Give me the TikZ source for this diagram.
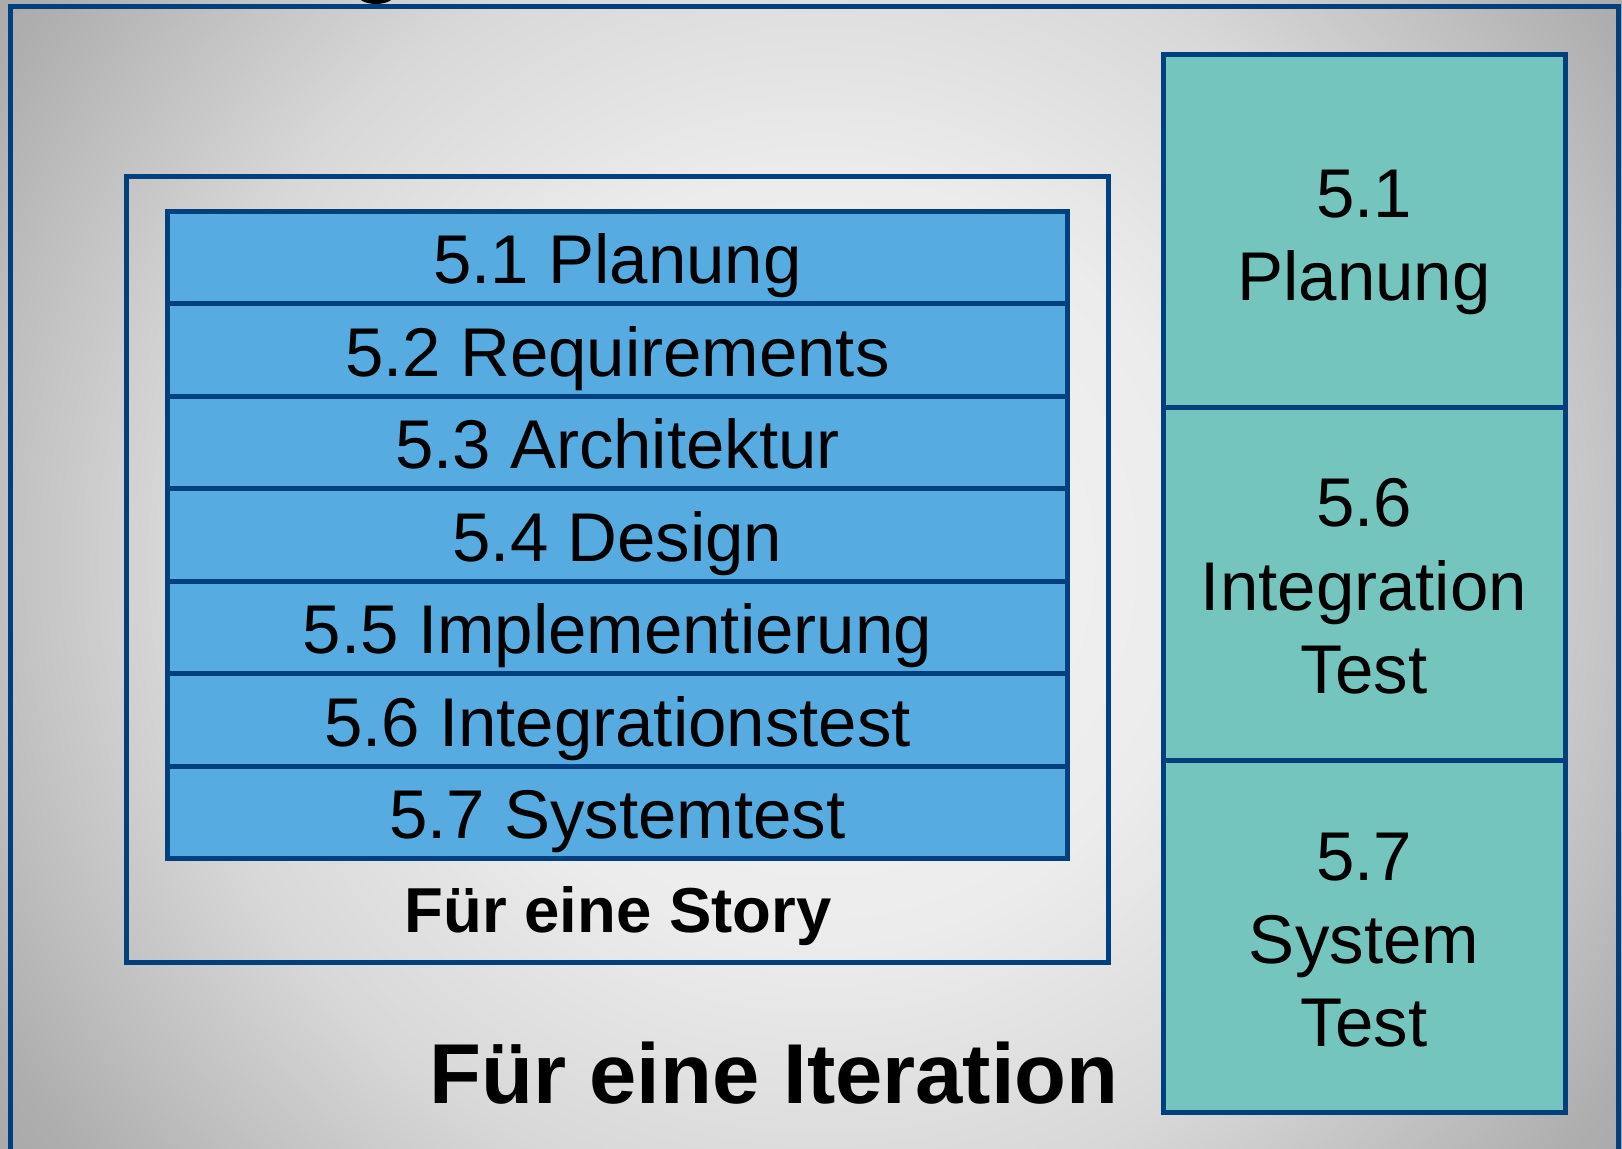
\documentclass[tikz,border=0pt]{standalone}
\usepackage{fontspec}
\setmainfont{Liberation Sans}
\definecolor{frameblue}{HTML}{00407F}
\definecolor{rowblue}{HTML}{56ACE0}
\definecolor{tealbox}{HTML}{74C5BE}
\definecolor{bgA}{HTML}{F5F5F5}
\definecolor{bgB}{HTML}{ECECEC}
\definecolor{bgC}{HTML}{D8D8D8}
\definecolor{bgD}{HTML}{BEBEBE}
\definecolor{bgE}{HTML}{AEAEAE}
\definecolor{bgF}{HTML}{A0A0A0}
\pgfdeclareradialshading{bgglow}{\pgfpoint{0bp}{0bp}}{color(0bp)=(bgA); color(10bp)=(bgB); color(17bp)=(bgC); color(22bp)=(bgD); color(25bp)=(bgE); color(30bp)=(bgF); color(50bp)=(bgF)}
\begin{document}
\begin{tikzpicture}[x=0.5pt,y=-0.5pt,
  bline/.style={draw=frameblue,line width=2.5pt},
  rowbox/.style={bline, fill=rowblue, rectangle, inner sep=0pt, minimum width=450pt, minimum height=46.25pt, font=\fontsize{34.5pt}{41.5pt}\selectfont, text height=26.5pt, text depth=0pt},
  tealcell/.style={bline, fill=tealbox, rectangle, inner sep=0pt, minimum width=201pt, minimum height=176.4pt},
  celltext/.style={anchor=base, inner sep=0pt, font=\fontsize{34.5pt}{41.5pt}\selectfont},
  boldlabel/.style={anchor=base, inner sep=0pt, font=\bfseries}
]
\useasboundingbox (0,0) rectangle (1622,1148);
\begin{scope}
  \clip (0,0) rectangle (1622,1148);
  \shade[shading=bgglow] (-130,-390) rectangle (1770,1510);
  \fill[black] (376,-6) ellipse [x radius=9.5pt, y radius=5pt];
\end{scope}
% outer iteration frame
\draw[bline] (10,1160) -- (10,6.5) -- (1618,6.5) -- (1618,1160);
% story frame
\node[bline, rectangle, inner sep=0pt, minimum width=491.25pt, minimum height=393pt] (story) at (617.25,569.5) {};
% rows
\node[rowbox] (r1) at (617.5,257.25) {5.1 Planung};
\node[rowbox] (r2) at (617.5,349.75) {5.2 Requirements};
\node[rowbox] (r3) at (617.5,442.25) {5.3 Architektur};
\node[rowbox] (r4) at (617.5,534.75) {5.4 Design};
\node[rowbox] (r5) at (617.5,627.25) {5.5 Implementierung};
\node[rowbox] (r6) at (617.5,719.75) {5.6 Integrationstest};
\node[rowbox] (r7) at (617.5,812.25) {5.7 Systemtest};
\node[boldlabel, font=\fontsize{31.75pt}{38pt}\selectfont\bfseries] (storylbl) at (618,932) {Für eine Story};
% right column
\node[tealcell] (c1) at (1364,230.9) {};
\node[tealcell] (c2) at (1364,583.7) {};
\node[tealcell] (c3) at (1364,936.5) {};
\node[celltext] (c1a) at (1364,217) {5.1};
\node[celltext] (c1b) at (1364,300) {Planung};
\node[celltext] (c2a) at (1364,526.5) {5.6};
\node[celltext] (c2b) at (1364,610) {Integration};
\node[celltext] (c2c) at (1364,693) {Test};
\node[celltext] (c3a) at (1364,880) {5.7};
\node[celltext] (c3b) at (1364,963.5) {System};
\node[celltext] (c3c) at (1364,1046.5) {Test};
% iteration label
\node[boldlabel, font=\fontsize{42.5pt}{50pt}\selectfont\bfseries] (iterlbl) at (774,1103) {Für eine Iteration};
\end{tikzpicture}
\end{document}
